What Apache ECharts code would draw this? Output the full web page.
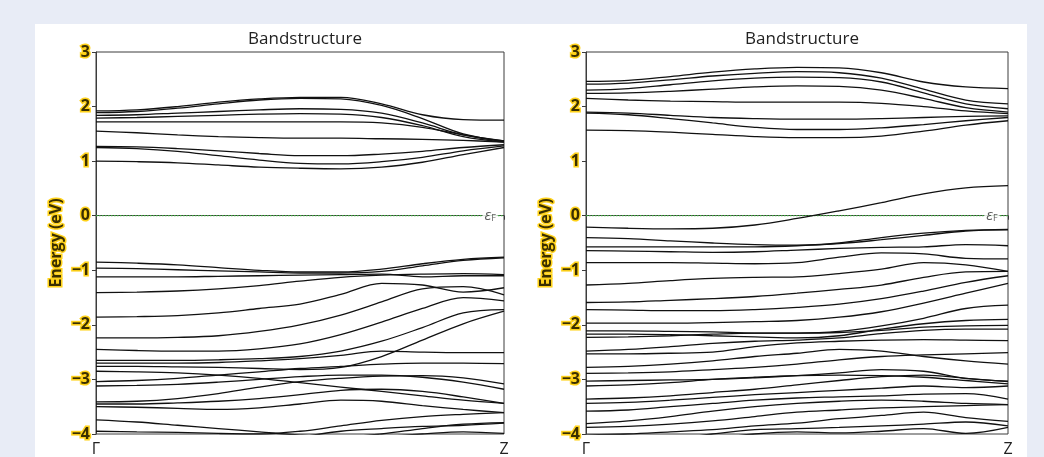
<!DOCTYPE html>
<html>
<head>
<meta charset="utf-8">
<script src="https://cdn.jsdelivr.net/npm/echarts@6/dist/echarts.min.js"></script>
<style>
html,body{margin:0;padding:0;background:#e8ecf6;width:1044px;height:457px;overflow:hidden;}
#panel{position:absolute;left:35px;top:24px;width:992px;height:433px;background:#ffffff;}
#chart{position:absolute;left:0;top:0;width:1044px;height:457px;}
</style>
</head>
<body>
<div id="panel"></div>
<div id="chart"></div>
<script>
// k-path positions (fraction of Γ→Z)
const kPoints = [0, 0.1, 0.2, 0.3, 0.4, 0.5, 0.6, 0.7, 0.8, 0.9, 1.0];
const kTickLabels = ['Γ', 'Z'];
const yTicks = [3, 2, 1, 0, -1, -2, -3, -4];
const panelTitles = ['Bandstructure', 'Bandstructure'];
const yAxisName = 'Energy (eV)';
const fermiLabel = 'εF';
const fermiEnergy = 0;

// Left panel bands (eV) sampled at kPoints
const leftConduction = [
  [1.92, 1.94, 2.00, 2.08, 2.14, 2.17, 2.17, 2.05, 1.85, 1.76, 1.75],
  [1.89, 1.91, 1.97, 2.05, 2.12, 2.15, 2.14, 2.02, 1.78, 1.50, 1.37],
  [1.84, 1.85, 1.88, 1.91, 1.94, 1.96, 1.95, 1.88, 1.70, 1.48, 1.36],
  [1.79, 1.80, 1.82, 1.84, 1.86, 1.87, 1.86, 1.80, 1.65, 1.45, 1.35],
  [1.72, 1.72, 1.72, 1.72, 1.72, 1.72, 1.72, 1.70, 1.62, 1.48, 1.37],
  [1.55, 1.52, 1.48, 1.45, 1.43, 1.42, 1.42, 1.41, 1.40, 1.38, 1.35],
  [1.27, 1.26, 1.23, 1.19, 1.14, 1.10, 1.10, 1.13, 1.18, 1.25, 1.30],
  [1.25, 1.23, 1.18, 1.10, 1.02, 0.96, 0.95, 0.99, 1.07, 1.19, 1.28],
  [1.00, 0.99, 0.97, 0.93, 0.89, 0.87, 0.86, 0.89, 0.98, 1.12, 1.25]
];
const leftValence = [
  [-0.85, -0.87, -0.90, -0.95, -1.00, -1.03, -1.03, -0.98, -0.88, -0.80, -0.76],
  [-0.96, -0.97, -0.99, -1.01, -1.03, -1.05, -1.05, -1.02, -0.92, -0.82, -0.77],
  [-1.12, -1.12, -1.12, -1.11, -1.10, -1.09, -1.08, -1.07, -1.12, -1.10, -1.10],
  [-1.41, -1.40, -1.38, -1.34, -1.28, -1.20, -1.13, -1.09, -1.07, -1.06, -1.08],
  [-1.86, -1.85, -1.83, -1.78, -1.70, -1.62, -1.44, -1.24, -1.27, -1.40, -1.32],
  [-2.24, -2.24, -2.23, -2.20, -2.12, -2.00, -1.82, -1.58, -1.34, -1.30, -1.45],
  [-2.45, -2.47, -2.48, -2.48, -2.44, -2.35, -2.18, -1.95, -1.70, -1.50, -1.56],
  [-2.65, -2.65, -2.65, -2.64, -2.62, -2.58, -2.48, -2.30, -2.05, -1.78, -1.72],
  [-2.70, -2.70, -2.70, -2.69, -2.66, -2.62, -2.56, -2.48, -2.50, -2.51, -2.51],
  [-2.76, -2.76, -2.77, -2.78, -2.80, -2.82, -2.78, -2.58, -2.28, -1.98, -1.75],
  [-2.85, -2.86, -2.88, -2.92, -2.98, -3.06, -3.14, -3.22, -3.30, -3.38, -3.44],
  [-3.04, -3.02, -2.98, -2.92, -2.86, -2.80, -2.76, -2.72, -2.70, -2.70, -2.71],
  [-3.12, -3.11, -3.09, -3.05, -3.00, -2.95, -2.92, -2.92, -2.96, -3.05, -3.18],
  [-3.41, -3.40, -3.35, -3.26, -3.14, -3.04, -2.98, -2.94, -2.93, -2.97, -3.08],
  [-3.45, -3.45, -3.43, -3.40, -3.35, -3.28, -3.20, -3.18, -3.22, -3.32, -3.44],
  [-3.50, -3.51, -3.53, -3.55, -3.52, -3.45, -3.38, -3.40, -3.48, -3.55, -3.61],
  [-3.74, -3.78, -3.84, -3.90, -3.96, -4.02, -4.05, -4.00, -3.90, -3.82, -3.79],
  [-3.95, -3.96, -3.97, -3.99, -4.00, -3.95, -3.85, -3.75, -3.68, -3.64, -3.61],
  [-4.30, -4.25, -4.20, -4.15, -4.10, -4.05, -3.95, -3.90, -3.86, -3.84, -3.80],
  [-4.40, -4.35, -4.30, -4.25, -4.20, -4.15, -4.10, -4.05, -4.00, -3.96, -3.99]
];

// Right panel bands (eV) sampled at kPoints
const rightConduction = [
  [2.46, 2.48, 2.55, 2.63, 2.69, 2.72, 2.71, 2.62, 2.45, 2.36, 2.33],
  [2.41, 2.43, 2.49, 2.56, 2.61, 2.64, 2.62, 2.52, 2.32, 2.12, 2.05],
  [2.30, 2.33, 2.40, 2.47, 2.52, 2.54, 2.53, 2.45, 2.25, 2.05, 1.96],
  [2.24, 2.25, 2.28, 2.32, 2.36, 2.38, 2.37, 2.30, 2.15, 1.98, 1.90],
  [2.15, 2.12, 2.10, 2.09, 2.08, 2.08, 2.08, 2.06, 2.00, 1.92, 1.87],
  [1.90, 1.88, 1.84, 1.80, 1.78, 1.77, 1.77, 1.78, 1.80, 1.82, 1.83],
  [1.88, 1.85, 1.78, 1.70, 1.62, 1.58, 1.58, 1.61, 1.67, 1.74, 1.80],
  [1.57, 1.56, 1.53, 1.49, 1.45, 1.43, 1.43, 1.46, 1.55, 1.66, 1.74]
];
const rightValence = [
  [-0.21, -0.23, -0.24, -0.23, -0.17, -0.05, 0.09, 0.24, 0.40, 0.51, 0.55],
  [-0.40, -0.42, -0.46, -0.50, -0.53, -0.54, -0.51, -0.44, -0.36, -0.28, -0.26],
  [-0.57, -0.57, -0.57, -0.57, -0.57, -0.55, -0.50, -0.40, -0.32, -0.27, -0.25],
  [-0.64, -0.65, -0.66, -0.67, -0.66, -0.63, -0.60, -0.58, -0.57, -0.53, -0.55],
  [-0.86, -0.86, -0.86, -0.87, -0.88, -0.86, -0.76, -0.68, -0.70, -0.78, -0.79],
  [-1.27, -1.24, -1.19, -1.15, -1.13, -1.12, -1.06, -0.98, -0.86, -0.90, -1.02],
  [-1.59, -1.58, -1.55, -1.52, -1.48, -1.42, -1.35, -1.27, -1.13, -1.03, -1.02],
  [-1.72, -1.73, -1.74, -1.74, -1.72, -1.68, -1.62, -1.52, -1.38, -1.22, -1.10],
  [-1.97, -1.97, -1.97, -1.96, -1.94, -1.92, -1.86, -1.76, -1.60, -1.42, -1.24],
  [-2.11, -2.11, -2.12, -2.13, -2.15, -2.15, -2.12, -2.02, -1.88, -1.70, -1.64],
  [-2.17, -2.17, -2.18, -2.20, -2.22, -2.24, -2.20, -2.08, -1.98, -1.92, -1.90],
  [-2.23, -2.22, -2.20, -2.17, -2.15, -2.15, -2.14, -2.10, -2.04, -2.02, -2.01],
  [-2.48, -2.45, -2.40, -2.34, -2.30, -2.28, -2.24, -2.16, -2.10, -2.08, -2.08],
  [-2.53, -2.53, -2.52, -2.50, -2.40, -2.33, -2.30, -2.28, -2.27, -2.28, -2.29],
  [-2.78, -2.76, -2.72, -2.66, -2.58, -2.52, -2.45, -2.48, -2.58, -2.66, -2.72],
  [-2.89, -2.88, -2.86, -2.82, -2.78, -2.72, -2.64, -2.58, -2.55, -2.53, -2.51],
  [-3.03, -3.02, -3.01, -3.00, -2.97, -2.93, -2.88, -2.82, -2.85, -2.98, -3.03],
  [-3.12, -3.10, -3.06, -3.00, -2.96, -2.93, -2.92, -2.93, -2.96, -3.02, -3.08],
  [-3.36, -3.34, -3.30, -3.24, -3.18, -3.10, -3.02, -2.95, -2.92, -2.98, -3.04],
  [-3.44, -3.42, -3.38, -3.33, -3.28, -3.24, -3.20, -3.16, -3.12, -3.15, -3.12],
  [-3.58, -3.56, -3.50, -3.44, -3.38, -3.34, -3.32, -3.30, -3.27, -3.26, -3.36],
  [-3.81, -3.76, -3.68, -3.58, -3.50, -3.44, -3.40, -3.38, -3.40, -3.44, -3.46],
  [-3.88, -3.86, -3.82, -3.76, -3.68, -3.60, -3.56, -3.52, -3.50, -3.48, -3.46],
  [-4.02, -4.00, -3.96, -3.92, -3.85, -3.80, -3.72, -3.66, -3.60, -3.70, -3.77],
  [-4.30, -4.20, -4.10, -4.00, -3.92, -3.90, -3.88, -3.85, -3.82, -3.78, -3.85],
  [-4.50, -4.40, -4.30, -4.10, -4.00, -3.96, -3.98, -3.95, -3.90, -3.99, -3.88]
];

const panels = [
  { bands: leftConduction.concat(leftValence), fermiK: 0.966 },
  { bands: rightConduction.concat(rightValence), fermiK: 0.962 }
];

const FONT = '"Open Sans", "Noto Sans", sans-serif';
const frameColor = '#3c3c3c';
const labelStyle = {
  color: '#3a2f00', fontWeight: 'bold', fontSize: 16, fontFamily: FONT,
  textBorderColor: '#ffd21a', textBorderWidth: 3
};

const grids = [
  { left: 96, right: 540, top: 52, bottom: 23 },
  { left: 586, right: 36, top: 52, bottom: 23 }
].map(g => Object.assign(g, { show: true, borderColor: frameColor, borderWidth: 1, backgroundColor: 'transparent' }));

const xAxes = grids.map((g, i) => ({
  type: 'value', gridIndex: i, min: 0, max: 1, interval: 1,
  axisLine: { show: true, lineStyle: { color: frameColor, width: 1 } },
  axisTick: { show: true, length: 4, lineStyle: { color: frameColor } },
  splitLine: { show: false },
  axisLabel: {
    margin: 7, fontSize: 16, color: '#222', fontFamily: FONT,
    formatter: v => v === 0 ? kTickLabels[0] : (v === 1 ? kTickLabels[1] : '')
  }
}));

const yAxes = grids.map((g, i) => ({
  type: 'value', gridIndex: i, min: yTicks[yTicks.length - 1], max: yTicks[0], interval: 1,
  name: yAxisName, nameLocation: 'middle', nameGap: 27, nameRotate: 90,
  nameTextStyle: Object.assign({}, labelStyle, { fontSize: 16 }),
  axisLine: { show: true, lineStyle: { color: frameColor, width: 1 } },
  axisTick: { show: true, length: 4, lineStyle: { color: frameColor } },
  splitLine: { show: false },
  axisLabel: Object.assign({}, labelStyle, {
    margin: 6,
    formatter: v => (v < 0 ? '\u2212' + Math.abs(v) : String(v))
  })
}));

const series = [];
panels.forEach((p, i) => {
  p.bands.forEach(b => {
    series.push({
      type: 'line', xAxisIndex: i, yAxisIndex: i, silent: true,
      showSymbol: false, symbol: 'none', smooth: 0.35, clip: true,
      lineStyle: { color: '#111', width: 1.3 },
      data: b.map((e, j) => [kPoints[j], e]),
      z: 3
    });
  });
  // Fermi level line
  series.push({
    type: 'line', xAxisIndex: i, yAxisIndex: i, silent: true,
    showSymbol: false, symbol: 'none',
    lineStyle: { color: '#3fae3f', width: 1.2, type: [1.5, 1.5] },
    data: [[0, fermiEnergy], [1, fermiEnergy]],
    z: 2
  });
  // Fermi label
  series.push({
    type: 'scatter', xAxisIndex: i, yAxisIndex: i, silent: true,
    symbolSize: 0,
    data: [[p.fermiK, fermiEnergy]],
    label: {
      show: true, position: 'inside',
      formatter: '{e|' + fermiLabel.charAt(0) + '}{f|' + fermiLabel.charAt(1) + '}',
      backgroundColor: '#ffffff', padding: [0, 2],
      rich: {
        e: { fontSize: 15, fontStyle: 'italic', color: '#333', fontFamily: FONT },
        f: { fontSize: 9, color: '#333', fontFamily: FONT, verticalAlign: 'bottom', padding: [6, 0, 0, 0] }
      }
    },
    z: 4
  });
});

const chart = echarts.init(document.getElementById('chart'), null, { renderer: 'canvas' });
chart.setOption({
  animation: false,
  backgroundColor: 'transparent',
  title: panelTitles.map((t, i) => ({
    text: t, left: i === 0 ? 300 : 797, top: 26, textAlign: 'center',
    textStyle: { fontSize: 17, fontWeight: 'normal', color: '#222', fontFamily: FONT }
  })),
  grid: grids,
  xAxis: xAxes,
  yAxis: yAxes,
  series: series
});
</script>
</body>
</html>
